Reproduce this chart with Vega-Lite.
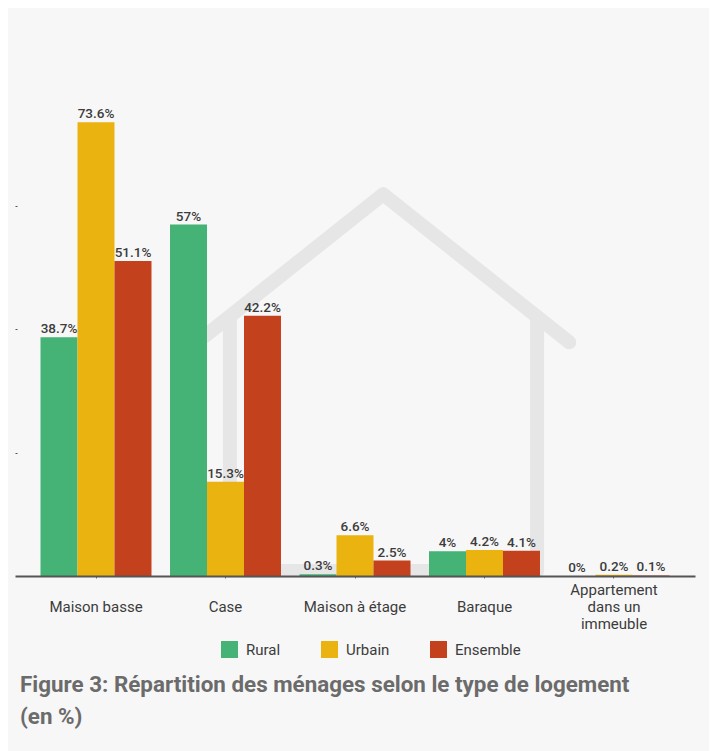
{"$schema":"https://vega.github.io/schema/vega-lite/v6.json","width":680,"height":555,"autosize":"none","padding":{"left":15,"top":21,"right":20,"bottom":175},"background":"#ffffff","view":{"stroke":null},
"datasets":{"bars":[
{"type":"Maison basse","group":"Rural","value":38.7,"label":"38.7%"},{"type":"Maison basse","group":"Urbain","value":73.6,"label":"73.6%"},{"type":"Maison basse","group":"Ensemble","value":51.1,"label":"51.1%"},
{"type":"Case","group":"Rural","value":57,"label":"57%"},{"type":"Case","group":"Urbain","value":15.3,"label":"15.3%"},{"type":"Case","group":"Ensemble","value":42.2,"label":"42.2%"},
{"type":"Maison à étage","group":"Rural","value":0.3,"label":"0.3%"},{"type":"Maison à étage","group":"Urbain","value":6.6,"label":"6.6%"},{"type":"Maison à étage","group":"Ensemble","value":2.5,"label":"2.5%"},
{"type":"Baraque","group":"Rural","value":4,"label":"4%"},{"type":"Baraque","group":"Urbain","value":4.2,"label":"4.2%"},{"type":"Baraque","group":"Ensemble","value":4.1,"label":"4.1%"},
{"type":"Appartement dans un immeuble","group":"Rural","value":0,"label":"0%"},{"type":"Appartement dans un immeuble","group":"Urbain","value":0.2,"label":"0.2%"},{"type":"Appartement dans un immeuble","group":"Ensemble","value":0.1,"label":"0.1%"}],
"house":[{"part":"roof","o":1,"u":1.39,"p":37.9},{"part":"roof","o":2,"u":2.81,"p":61.9},{"part":"roof","o":3,"u":4.23,"p":37.9},
{"part":"walls","o":1,"u":1.64,"p":42},{"part":"walls","o":2,"u":1.64,"p":0.8},{"part":"walls","o":3,"u":3.985,"p":0.8},{"part":"walls","o":4,"u":3.985,"p":42}],
"panel":[{"u":-0.053,"u2":5.298,"p":92.1,"p2":-28.4}]},
"layer":[
{"data":{"name":"panel"},"mark":{"type":"rect","color":"#f7f7f7"},"encoding":{"x":{"field":"u","type":"quantitative","scale":{"domain":[0,5.19],"nice":false,"zero":false},"axis":null},"x2":{"field":"u2"},"y":{"field":"p","type":"quantitative","scale":{"domain":[0,90],"nice":false},"axis":{"title":null,"values":[20,40,60],"labels":false,"domain":false,"grid":false,"tickSize":2,"tickColor":"#555555","offset":-2,"zindex":1}},"y2":{"field":"p2"}}},
{"data":{"name":"house"},"mark":{"type":"line","color":"#e6e6e6","strokeWidth":14,"strokeCap":"round","strokeJoin":"round"},"encoding":{"x":{"field":"u","type":"quantitative","scale":{"domain":[0,5.19],"nice":false,"zero":false},"axis":null},"y":{"field":"p","type":"quantitative"},"detail":{"field":"part"},"order":{"field":"o"}}},
{"data":{"name":"bars"},"mark":{"type":"bar"},"encoding":{
"x":{"field":"type","type":"nominal","sort":null,"scale":{"paddingInner":0.143,"paddingOuter":0.197},"axis":{"orient":"bottom","zindex":1,"title":null,"labelAngle":0,"labelFont":"Roboto","labelFontSize":15,"labelColor":"#3c3c3c","labelLimit":120,"labelPadding":4,"labelBaseline":"top","labelExpr":"datum.label == 'Appartement dans un immeuble' ? ['Appartement','dans un','immeuble'] : ['', datum.label]","tickColor":"#666666","tickSize":2,"domainColor":"#555555","domainWidth":2,"labelLineHeight":17}},
"xOffset":{"field":"group","sort":["Rural","Urbain","Ensemble"]},
"y":{"field":"value","type":"quantitative"},
"color":{"field":"group","type":"nominal","sort":["Rural","Urbain","Ensemble"],"scale":{"domain":["Rural","Urbain","Ensemble"],"range":["#45b276","#eab30f","#c4411d"]},"legend":{"title":null,"orient":"none","legendX":206,"legendY":620,"direction":"horizontal","symbolType":"square","symbolSize":289,"symbolStrokeWidth":0,"symbolOpacity":1,"labelFont":"Roboto","labelFontSize":15,"labelColor":"#3c3c3c","labelOffset":8,"columnPadding":40}}}},
{"data":{"name":"bars"},"mark":{"type":"text","baseline":"bottom","dy":-1,"font":"Roboto","fontSize":13.5,"fontWeight":500,"color":"#3c3c3c"},"encoding":{"x":{"field":"type","type":"nominal","sort":null,"scale":{"paddingInner":0.143,"paddingOuter":0.197},"axis":null},"xOffset":{"field":"group","sort":["Rural","Urbain","Ensemble"]},"y":{"field":"value","type":"quantitative"},"text":{"field":"label"}}}
],
"resolve":{"scale":{"x":"independent"}},
"title":{"text":["Figure 3: Répartition des ménages selon le type de logement","(en %)"],"orient":"none","anchor":"start","frame":"group","offset":0,"dx":5,"dy":653,"font":"Roboto","fontSize":22.4,"fontWeight":"bold","color":"#6b6b6b","lineHeight":32}}
